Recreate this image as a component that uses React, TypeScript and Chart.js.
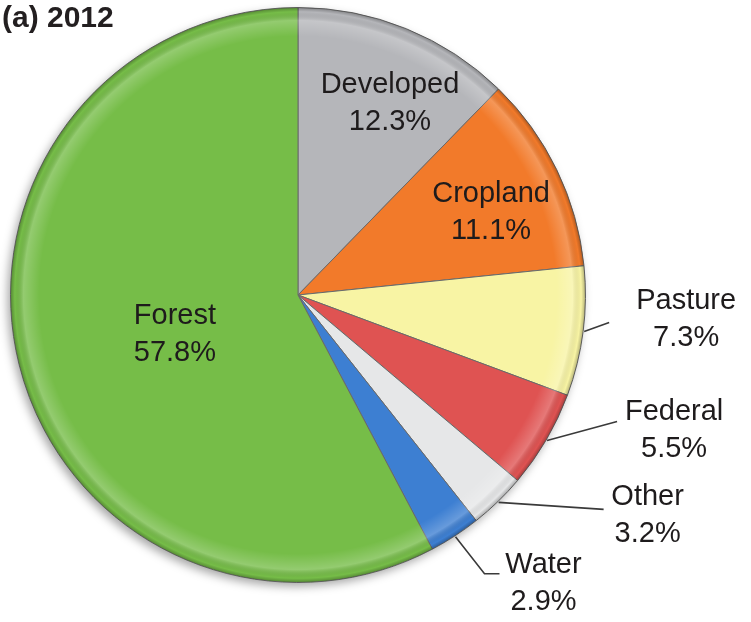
import React, { useEffect, useRef } from "react";
import { Chart, registerables } from "chart.js";

Chart.register(...registerables);

const categories = ["Developed", "Cropland", "Pasture", "Federal", "Other", "Water", "Forest"];
const shares = [12.3, 11.1, 7.3, 5.5, 3.2, 2.9, 57.8];
const shareLabels = ["12.3%", "11.1%", "7.3%", "5.5%", "3.2%", "2.9%", "57.8%"];
const sliceColors = ["#b5b6ba", "#f27a2a", "#f8f4a4", "#df5352", "#e6e7e8", "#3d7fd2", "#76bd48"];
const titleText = "(a) 2012";

// label placement (styling): inside labels use radial fraction + angle shift (deg);
// outside labels use leader-line offsets relative to the slice edge point
type Place =
  | { kind: "in"; frac: number; dAng: number }
  | { kind: "out"; path: [number, number][]; text: [number, number] };
const placement: Place[] = [
  { kind: "in", frac: 0.74, dAng: 3.5 },
  { kind: "in", frac: 0.73, dAng: 2.7 },
  { kind: "out", path: [[25, -9]], text: [77, -3] },
  { kind: "out", path: [[70, -19]], text: [57, 9] },
  { kind: "out", path: [[105, 7]], text: [44, 6] },
  { kind: "out", path: [[29, 37], [44, 37]], text: [44, 10] },
  { kind: "in", frac: 0.45, dAng: -4 },
];

const FONT = "'Liberation Sans', Arial, Helvetica, sans-serif";

const labelPlugin = {
  id: "pieLabels",
  beforeDatasetsDraw(chart: any) {
    const arc = chart.getDatasetMeta(0).data[0];
    if (!arc) return;
    const { ctx } = chart;
    ctx.save();
    ctx.shadowColor = "rgba(0,0,0,0.35)";
    ctx.shadowBlur = 10;
    ctx.shadowOffsetX = -3;
    ctx.shadowOffsetY = 4;
    ctx.fillStyle = "#ffffff";
    ctx.beginPath();
    ctx.arc(arc.x, arc.y, arc.outerRadius, 0, Math.PI * 2);
    ctx.fill();
    ctx.restore();
  },
  afterDatasetsDraw(chart: any) {
    const meta = chart.getDatasetMeta(0);
    const { ctx } = chart;
    const a0 = meta.data[0];
    if (!a0) return;
    // bevel overlay
    ctx.save();
    const g = ctx.createRadialGradient(a0.x, a0.y, 0, a0.x, a0.y, a0.outerRadius);
    g.addColorStop(0, "rgba(255,255,255,0)");
    g.addColorStop(0.9, "rgba(255,255,255,0)");
    g.addColorStop(0.955, "rgba(255,255,255,0.22)");
    g.addColorStop(0.985, "rgba(0,0,0,0)");
    g.addColorStop(1, "rgba(0,0,0,0.28)");
    ctx.fillStyle = g;
    ctx.beginPath();
    ctx.arc(a0.x, a0.y, a0.outerRadius, 0, Math.PI * 2);
    ctx.fill();
    ctx.restore();

    ctx.save();
    ctx.font = `29px ${FONT}`;
    ctx.fillStyle = "#1e1b1c";
    ctx.textAlign = "center";
    ctx.textBaseline = "middle";
    const lineGap = 37;
    meta.data.forEach((el: any, i: number) => {
      const p = placement[i];
      const mid = (el.startAngle + el.endAngle) / 2;
      if (p.kind === "in") {
        const ang = mid + (p.dAng * Math.PI) / 180;
        const r = el.outerRadius * p.frac;
        const cx = el.x + Math.cos(ang) * r;
        const cy = el.y + Math.sin(ang) * r;
        ctx.fillText(categories[i], cx, cy - lineGap / 2);
        ctx.fillText(shareLabels[i], cx, cy + lineGap / 2);
      } else {
        const r = el.outerRadius + 1;
        const sx = el.x + Math.cos(mid) * r;
        const sy = el.y + Math.sin(mid) * r;
        ctx.save();
        ctx.strokeStyle = "#3a3a3a";
        ctx.lineWidth = 1.6;
        ctx.beginPath();
        ctx.moveTo(sx, sy);
        let ex = sx, ey = sy;
        p.path.forEach(([dx, dy]) => {
          ex = sx + dx;
          ey = sy + dy;
          ctx.lineTo(ex, ey);
        });
        ctx.stroke();
        ctx.restore();
        const tx = ex + p.text[0];
        const ty = ey + p.text[1];
        ctx.fillText(categories[i], tx, ty - lineGap / 2);
        ctx.fillText(shareLabels[i], tx, ty + lineGap / 2);
      }
    });
    // title
    ctx.font = `bold 30px ${FONT}`;
    ctx.textAlign = "left";
    ctx.fillStyle = "#231f20";
    ctx.fillText(titleText, 2, 19);
    ctx.restore();
  },
};

export default function App() {
  const ref = useRef<HTMLCanvasElement | null>(null);
  useEffect(() => {
    if (!ref.current) return;
    const chart = new Chart(ref.current, {
      type: "pie",
      data: {
        labels: categories,
        datasets: [
          {
            data: shares,
            backgroundColor: sliceColors,
            borderColor: "#6a6a6a",
            borderWidth: 1,
          },
        ],
      },
      options: {
        responsive: false,
        animation: false,
        layout: { padding: { left: 10, right: 165, top: 7, bottom: 39 } },
        plugins: {
          legend: { display: false },
          tooltip: { enabled: false },
          title: { display: false },
        },
      },
      plugins: [labelPlugin],
    });
    return () => chart.destroy();
  }, []);
  return (
    <div style={{ position: "fixed", left: 0, top: 0, width: 751, height: 622, background: "#fff" }}>
      <canvas ref={ref} width={751} height={622} style={{ display: "block" }} />
    </div>
  );
}
